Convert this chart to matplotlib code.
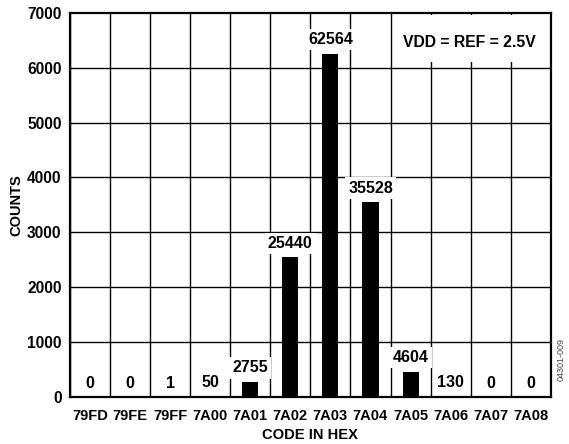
import numpy as np
import matplotlib
matplotlib.use('Agg')
import matplotlib.pyplot as plt
from matplotlib.patches import Rectangle

codes = ['79FD', '79FE', '79FF', '7A00', '7A01', '7A02',
         '7A03', '7A04', '7A05', '7A06', '7A07', '7A08']
counts = [0, 0, 1, 50, 2755, 25440, 62564, 35528, 4604, 130, 0, 0]
# the bars in the plot are drawn at one tenth of the hit count
bar_heights = [c / 10.0 for c in counts]


def plot_histogram():
    plt.rcParams['font.family'] = ['Liberation Sans', 'DejaVu Sans']
    plt.rcParams['font.weight'] = 'bold'

    fig = plt.figure(figsize=(5.69, 4.44), dpi=100)
    ax = fig.add_axes([0.123, 0.106, 0.845, 0.865])

    x = np.arange(len(codes))
    ax.bar(x, bar_heights, width=0.4, color='black', zorder=3)

    for k in range(len(codes) + 1):
        ax.axvline(k - 0.5, color='black', lw=1.0, zorder=1)
    for yv in range(1000, 7000, 1000):
        ax.axhline(yv, color='black', lw=1.0, zorder=1)

    for xi, h, c in zip(x, bar_heights, counts):
        ax.annotate(str(c), (xi, h), xytext=(0, 10), textcoords='offset points',
                    ha='center', va='center', fontsize=11.5, fontweight='bold',
                    zorder=4,
                    bbox=dict(boxstyle='square,pad=0.2', fc='white', ec='none'))

    # white panel behind the supply note
    ax.add_patch(Rectangle((0.674, 0.872), 0.321, 0.123, transform=ax.transAxes,
                           fc='white', ec='none', zorder=2))
    ax.text(0.83, 0.924, 'VDD = REF = 2.5V', transform=ax.transAxes,
            ha='center', va='center', fontsize=11.3, fontweight='bold', zorder=4)

    ax.set_xlim(-0.5, len(codes) - 0.5)
    ax.set_ylim(0, 7000)
    ax.set_xticks(x)
    ax.set_xticklabels(codes, fontsize=10.5, fontweight='bold')
    ax.set_yticks(range(0, 7001, 1000))
    ax.set_yticklabels([str(v) for v in range(0, 7001, 1000)],
                       fontsize=11.2, fontweight='bold')
    ax.tick_params(axis='y', length=0, pad=6)
    ax.tick_params(axis='x', length=0, pad=9)
    for sp in ax.spines.values():
        sp.set_linewidth(1.6)
        sp.set_zorder(5)

    ax.set_xlabel('CODE IN HEX', fontsize=10.6, fontweight='bold', labelpad=3)
    ax.set_ylabel('COUNTS', fontsize=10.5, fontweight='bold', labelpad=3)

    fig.text(0.987, 0.19, '04301-009', rotation=90, fontsize=6.5,
             color='#444444', fontweight='normal', ha='center', va='center')

    fig.savefig('out.png', dpi=100)
    plt.close(fig)


if __name__ == '__main__':
    plot_histogram()
